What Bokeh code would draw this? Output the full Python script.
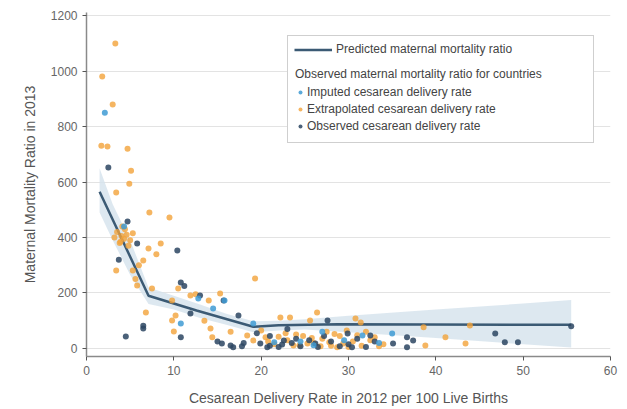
from bokeh.plotting import figure
from bokeh.models import Range1d, Legend, LegendItem, FixedTicker
from bokeh.embed import file_html
from bokeh.resources import INLINE

# ---- data ----
imp_x = [2.1, 4.3, 10.8, 14.5, 15.8, 19.1, 21.5, 24.5, 27.0, 29.5, 31.6, 33.5, 35.0, 12.8, 26.0]
imp_y = [850, 440, 90, 144, 173, 90, 22, 25, 60, 30, 47, 20, 54, 180, 12]

ext_x = [3.3, 1.8, 3.0, 1.7, 2.4, 4.7, 5.1, 4.9, 3.4, 7.2, 9.5,
         3.5, 4.0, 4.3, 4.6, 5.0, 3.8, 4.4, 5.3, 3.2, 4.8, 3.9, 4.1,
         8.5, 7.1, 3.4, 6.5, 5.3, 5.8, 7.5, 10.5, 11.9, 12.5, 9.8, 15.3, 14.0, 6.8, 10.2, 9.8, 10.0, 14.2, 14.4,
         19.3, 18.4, 19.1, 22.2, 23.3, 23.7, 25.3, 26.4, 25.6, 30.8, 31.4, 28.7, 38.6, 38.8, 41.1, 43.4, 43.9,
         20.5, 21.5, 23.0, 24.0, 26.0, 27.0, 28.0, 29.0, 30.5, 31.5, 32.5, 33.5, 34.0, 27.5, 22.8, 29.8, 32.0,
         6.0, 5.6, 8.0, 16.5, 13.5, 20.0, 24.8, 30.0,
         20.8, 22.0, 24.4, 25.8, 27.8, 29.4, 31.0, 33.0, 26.8, 28.4]
ext_y = [1099, 980, 879, 731, 728, 720, 641, 594, 562, 490, 472,
         420, 405, 395, 410, 390, 380, 430, 415, 400, 370, 385, 440,
         378, 360, 281, 317, 281, 227, 216, 216, 191, 195, 173, 198, 173, 130, 119, 101, 61, 72, 40,
         252, 47, 29, 112, 112, 11, 18, 130, 101, 108, 94, 4, 76, 11, 40, 18, 83,
         40, 15, 30, 50, 20, 35, 10, 45, 25, 10, 30, 8, 15, 60, 55, 65, 60,
         300, 250, 340, 60, 100, 65, 45, 5,
         25, 42, 12, 38, 22, 18, 48, 40, 8, 52]

obs_x = [2.5, 4.7, 5.8, 10.4, 3.7, 10.8, 11.2, 13.0, 17.4, 11.9,
         6.5, 6.5, 4.5, 10.8, 15.5, 16.5, 16.8, 15.0, 19.9, 20.7,
         22.6, 27.6, 29.9, 32.5, 35.1, 36.7, 37.4, 36.7, 46.8, 47.9,
         49.4, 55.5, 21.0, 22.0, 23.5, 24.5, 25.5, 26.5, 28.0, 29.0,
         30.0, 31.0, 32.0, 33.0, 19.5, 21.0, 23.0, 18.0, 17.8, 15.7,
         24.0, 26.2, 27.2, 30.4, 22.4]
obs_y = [652, 458, 378, 353, 320, 238, 225, 191, 119, 126,
         72, 82, 43, 40, 18, 11, 4, 25, 18, 4,
         29, 101, 54, 47, 18, 40, 29, 4, 54, 22,
         22, 80, 10, 5, 20, 8, 30, 5, 25, 8,
         15, 35, 5, 25, 55, 45, 70, 20, 8, 173,
         35, 18, 45, 4, 14]

pred_x = [1.5, 7.1, 12.6, 19.1, 22.0, 28.8, 55.5]
pred_y = [565, 190, 137, 78, 84, 87, 85]

band_x = [1.5, 3, 5, 7.1, 10, 13, 16, 19.1, 22, 25, 30, 40, 50, 55.5]
band_lo = [490, 390, 265, 160, 140, 110, 85, 58, 65, 68, 58, 38, 15, 3]
band_hi = [650, 520, 390, 220, 190, 158, 125, 98, 100, 105, 118, 140, 162, 175]

x_ticks = [0, 10, 20, 30, 40, 50, 60]
y_ticks = [0, 200, 400, 600, 800, 1000, 1200]

FONT = "Liberation Sans"
C_IMP = "#3f9bd4"
C_EXT = "#f2a33a"
C_OBS = "#2b4561"
C_LINE = "#3b5a74"

p = figure(width=627, height=409, output_backend="svg", toolbar_location=None,
           x_range=Range1d(0, 60), y_range=Range1d(-29, 1211),
           min_border_left=86, min_border_right=17, min_border_top=12, min_border_bottom=53)
p.outline_line_color = None
p.background_fill_color = "white"

p.varea(x=band_x, y1=band_lo, y2=band_hi, fill_color="#d5e2ec", fill_alpha=0.8)
line_r = p.line(pred_x, pred_y, line_color=C_LINE, line_width=2.5)

ext_r = p.scatter(ext_x, ext_y, size=6, fill_color=C_EXT, fill_alpha=0.8, line_color=None)
obs_r = p.scatter(obs_x, obs_y, size=6, fill_color=C_OBS, fill_alpha=0.85, line_color=None)
imp_r = p.scatter(imp_x, imp_y, size=6, fill_color=C_IMP, fill_alpha=0.85, line_color=None)
dummy = p.scatter(x=[], y=[], alpha=0)

# axes
for ax in (p.xaxis[0], p.yaxis[0]):
    ax.axis_line_color = "#8a8a8a"
    ax.axis_line_width = 1.5
    ax.major_tick_line_color = "#555555"
    ax.major_tick_out = 4
    ax.major_tick_in = 0
    ax.minor_tick_line_color = None
    ax.major_label_text_font = FONT
    ax.major_label_text_font_size = "12px"
    ax.major_label_text_color = "#666666"
    ax.major_label_standoff = 5
    ax.axis_label_text_font = FONT
    ax.axis_label_text_font_size = "14px"
    ax.axis_label_text_font_style = "normal"
    ax.axis_label_text_color = "#555555"

p.xaxis.ticker = FixedTicker(ticks=x_ticks)
p.yaxis.ticker = FixedTicker(ticks=y_ticks)
p.xaxis.axis_label = "Cesarean Delivery Rate in 2012 per 100 Live Births"
p.yaxis.axis_label = "Maternal Mortality Ratio in 2013"
p.xaxis.axis_label_standoff = 12
p.yaxis.axis_label_standoff = 10

p.xgrid.grid_line_color = None
p.ygrid.grid_line_color = "#e3e3e3"
p.ygrid.grid_line_width = 1

# legend frame with the predicted line
leg_frame = Legend(
    items=[LegendItem(label="Predicted maternal mortality ratio", renderers=[line_r])]
          + [LegendItem(label=" ", renderers=[dummy]) for _ in range(4)],
    location=(201, 213), glyph_width=38, glyph_height=13, label_height=13,
    label_width=251, label_standoff=4, spacing=7, padding=6, margin=0,
    border_line_color="#a0a0a0", border_line_width=1,
    background_fill_color="white", background_fill_alpha=1,
    label_text_font=FONT, label_text_font_size="12px", label_text_color="#444444")

leg_obs = Legend(
    title="Observed maternal mortality ratio for countries",
    items=[LegendItem(label="Imputed cesarean delivery rate", renderers=[imp_r]),
           LegendItem(label="Extrapolated cesarean delivery rate", renderers=[ext_r]),
           LegendItem(label="Observed cesarean delivery rate", renderers=[obs_r])],
    location=(209, 222), glyph_width=10, glyph_height=10, label_height=17,
    label_standoff=2, spacing=0, padding=0, margin=0,
    border_line_color=None, background_fill_alpha=0,
    title_text_font=FONT, title_text_font_size="12px", title_text_font_style="normal",
    title_text_color="#444444", title_standoff=2,
    label_text_font=FONT, label_text_font_size="12px", label_text_color="#444444")

p.add_layout(leg_frame, "center")
p.add_layout(leg_obs, "center")

open("out.html", "w").write(file_html(p, INLINE))
